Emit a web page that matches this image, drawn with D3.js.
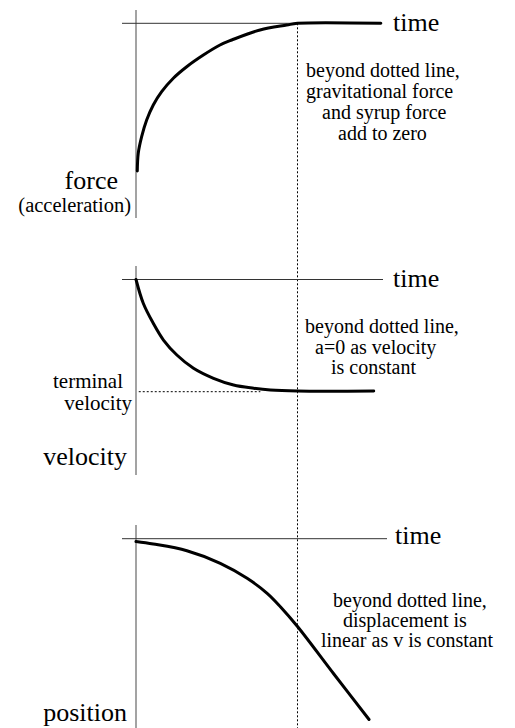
<!DOCTYPE html>
<html>
<head>
<meta charset="utf-8">
<script src="https://cdn.jsdelivr.net/npm/d3@7"></script>
<style>
  html, body { margin: 0; padding: 0; background: #fff; }
  svg { display: block; }
</style>
</head>
<body>
<svg id="chart" width="515" height="728"></svg>
<script>
// ---- data (time in arbitrary units; dotted line at t = 10) ----
const forceTime   = [0.08, 0.14, 0.35, 0.66, 1.07, 1.59, 2.31, 3.14, 4.17, 5.2, 5.93, 7.68, 9.33, 10, 15.16];
const forceValues = [-10, -8.8, -7.68, -6.55, -5.53, -4.63, -3.72, -2.94, -2.15, -1.47, -1.13, -0.45, -0.12, 0, 0];

const velocityTime   = [0, 0.45, 1.07, 1.70, 2.53, 3.56, 4.80, 6.04, 7.29, 8.32, 10, 14.72];
const velocityValues = [0, -2.13, -3.93, -5.43, -6.77, -7.96, -8.86, -9.46, -9.75, -9.91, -10, -10];

const positionTime   = [0, 1.07, 3.15, 5.22, 6.88, 8.12, 8.94, 10, 12.25, 14.43];
const positionValues = [-0.28, -0.53, -1.2, -2.46, -3.96, -5.46, -6.8, -8.78, -13.53, -18.08];

const terminalVelocity = -10;
const terminalSpan = [0.17, 7.7];
const dottedTime = 10;

const axisLabels = ["force", "velocity", "position"];
const timeLabel = "time";
const notes = [
  ["beyond dotted line,", "gravitational force", "and syrup force", "add to zero"],
  ["beyond dotted line,", "a=0 as velocity", "is constant"],
  ["beyond dotted line,", "displacement is", "linear as v is constant"]
];

// ---- layout ----
const FONT = "'Liberation Serif', 'Times New Roman', Times, 'DejaVu Serif', serif";
const svg = d3.select("#chart").attr("font-family", FONT);
const x = d3.scaleLinear().domain([0, 10]).range([136, 297.5]);

const panels = [
  { y: d3.scaleLinear().domain([-10, 0]).range([171, 23.3]),
    vTop: 10, vBot: 218, hEnd: 380, timeX: 393, timeY: 31,
    t: forceTime, v: forceValues,
    noteX: [306, 306, 322, 338], noteY: [77, 98, 119, 140],
    label: { x: 118, y: 188.5 } },
  { y: d3.scaleLinear().domain([-10, 0]).range([391, 279.5]),
    vTop: 266, vBot: 475, hEnd: 383, timeX: 393, timeY: 287,
    t: velocityTime, v: velocityValues,
    noteX: [305, 315, 331], noteY: [333, 353.5, 374],
    label: { x: 127, y: 465 } },
  { y: d3.scaleLinear().domain([-10, 0]).range([638.7, 538.7]),
    vTop: 525, vBot: 728, hEnd: 387, timeX: 395, timeY: 544,
    t: positionTime, v: positionValues,
    noteX: [333, 343, 321], noteY: [607, 627, 647],
    label: { x: 127, y: 721 } }
];

// dotted vertical line
svg.append("line")
  .attr("x1", x(dottedTime)).attr("x2", x(dottedTime))
  .attr("y1", panels[0].y(0)).attr("y2", 728)
  .attr("stroke", "#000").attr("stroke-width", 1)
  .attr("stroke-dasharray", "2,2");

panels.forEach((p, i) => {
  const g = svg.append("g");
  g.append("line")
    .attr("x1", x(0)).attr("x2", x(0))
    .attr("y1", p.vTop).attr("y2", p.vBot)
    .attr("stroke", "#666").attr("stroke-width", 1.2);
  g.append("line")
    .attr("x1", x(0) - 14).attr("x2", p.hEnd)
    .attr("y1", p.y(0)).attr("y2", p.y(0))
    .attr("stroke", "#333").attr("stroke-width", 1);
  g.append("text")
    .attr("x", p.timeX).attr("y", p.timeY)
    .attr("font-family", FONT)
    .attr("font-size", 26).text(timeLabel);
  const line = d3.line()
    .x((d, j) => x(p.t[j]))
    .y(d => p.y(d))
    .curve(d3.curveCatmullRom.alpha(0.5));
  g.append("path")
    .attr("d", line(p.v))
    .attr("fill", "none").attr("stroke", "#000")
    .attr("stroke-width", 3).attr("stroke-linecap", "round");
  g.append("text")
    .attr("x", p.label.x).attr("y", p.label.y)
    .attr("font-family", FONT)
    .attr("text-anchor", "end").attr("font-size", 26)
    .text(axisLabels[i]);
  notes[i].forEach((s, k) => {
    g.append("text")
      .attr("x", p.noteX[k]).attr("y", p.noteY[k])
      .attr("font-family", FONT)
      .attr("font-size", 20).text(s);
  });
});

svg.append("text").attr("x", 131).attr("y", 211.5).attr("font-family", FONT)
  .attr("text-anchor", "end").attr("font-size", 20.5).text("(acceleration)");
svg.append("text").attr("x", 123).attr("y", 388).attr("font-family", FONT)
  .attr("text-anchor", "end").attr("font-size", 21).text("terminal");
svg.append("text").attr("x", 132).attr("y", 410).attr("font-family", FONT)
  .attr("text-anchor", "end").attr("font-size", 21).text("velocity");

svg.append("line")
  .attr("x1", x(terminalSpan[0])).attr("x2", x(terminalSpan[1]))
  .attr("y1", panels[1].y(terminalVelocity) + 0.7).attr("y2", panels[1].y(terminalVelocity) + 0.7)
  .attr("stroke", "#000").attr("stroke-width", 1)
  .attr("stroke-dasharray", "2,2");
</script>
</body>
</html>
